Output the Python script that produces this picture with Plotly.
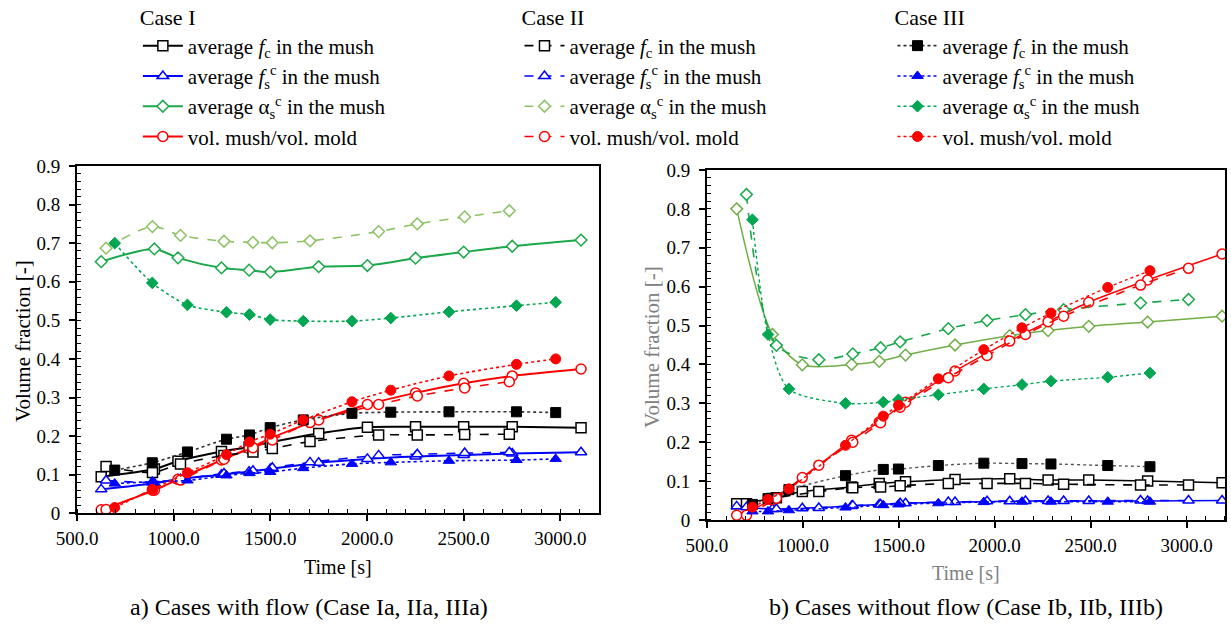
import plotly.graph_objects as go

# ---------------- data: a) cases with flow ----------------
t_I_a = [625, 900, 1022, 1247, 1390, 1500, 1750, 2002, 2251, 2500, 2751, 3107]
fc_I_a = [0.095, 0.115, 0.135, 0.160, 0.172, 0.184, 0.207, 0.223, 0.224, 0.224, 0.224, 0.222]
fs_I_a = [0.062, 0.078, 0.088, 0.100, 0.108, 0.115, 0.131, 0.141, 0.147, 0.151, 0.155, 0.158]
al_I_a = [0.652, 0.685, 0.662, 0.636, 0.630, 0.625, 0.639, 0.642, 0.661, 0.677, 0.692, 0.708]
vm_I_a = [0.009, 0.060, 0.088, 0.138, 0.168, 0.194, 0.242, 0.282, 0.312, 0.337, 0.356, 0.374]

t_II_a = [650, 890, 1035, 1260, 1410, 1510, 1705, 2060, 2260, 2505, 2736]
fc_II_a = [0.121, 0.106, 0.128, 0.150, 0.159, 0.168, 0.186, 0.203, 0.203, 0.204, 0.205]
fs_II_a = [0.085, 0.080, 0.088, 0.103, 0.110, 0.118, 0.132, 0.150, 0.153, 0.156, 0.158]
al_II_a = [0.687, 0.743, 0.720, 0.705, 0.702, 0.701, 0.706, 0.730, 0.750, 0.768, 0.784]
vm_II_a = [0.010, 0.060, 0.086, 0.140, 0.170, 0.190, 0.235, 0.282, 0.304, 0.325, 0.341]

t_III_a = [695, 889, 1071, 1273, 1392, 1499, 1670, 1922, 2123, 2424, 2773, 2976]
fc_III_a = [0.112, 0.131, 0.159, 0.192, 0.203, 0.222, 0.242, 0.259, 0.262, 0.263, 0.263, 0.261]
fs_III_a = [0.077, 0.082, 0.085, 0.098, 0.104, 0.107, 0.117, 0.128, 0.132, 0.136, 0.138, 0.141]
al_III_a = [0.700, 0.597, 0.540, 0.521, 0.515, 0.502, 0.498, 0.498, 0.506, 0.522, 0.538, 0.547]
vm_III_a = [0.015, 0.062, 0.105, 0.152, 0.185, 0.205, 0.242, 0.289, 0.319, 0.356, 0.386, 0.400]

# ---------------- data: b) cases without flow ----------------
t_I_b = [655, 841, 997, 1254, 1398, 1535, 1793, 2078, 2278, 2490, 2797, 3185]
fc_I_b = [0.042, 0.055, 0.073, 0.085, 0.094, 0.098, 0.104, 0.106, 0.103, 0.103, 0.100, 0.096]
fs_I_b = [0.035, 0.028, 0.030, 0.036, 0.040, 0.043, 0.046, 0.048, 0.049, 0.049, 0.049, 0.050]
al_I_b = [0.800, 0.477, 0.399, 0.400, 0.408, 0.424, 0.450, 0.474, 0.487, 0.498, 0.509, 0.524]
vm_I_b = [0.012, 0.052, 0.109, 0.205, 0.252, 0.303, 0.383, 0.460, 0.510, 0.560, 0.617, 0.684]

t_II_b = [706, 862, 1083, 1260, 1405, 1507, 1758, 1960, 2160, 2359, 2760, 3010]
fc_II_b = [0.042, 0.057, 0.073, 0.083, 0.085, 0.088, 0.094, 0.094, 0.094, 0.092, 0.090, 0.090]
fs_II_b = [0.033, 0.028, 0.031, 0.037, 0.040, 0.043, 0.046, 0.048, 0.049, 0.049, 0.050, 0.050]
al_II_b = [0.837, 0.449, 0.412, 0.427, 0.443, 0.458, 0.492, 0.513, 0.528, 0.541, 0.558, 0.567]
vm_II_b = [0.012, 0.056, 0.141, 0.200, 0.250, 0.290, 0.366, 0.423, 0.477, 0.524, 0.604, 0.647]

t_III_b = [737, 818, 927, 1222, 1419, 1498, 1706, 1943, 2142, 2293, 2589, 2809]
fc_III_b = [0.040, 0.055, 0.078, 0.114, 0.130, 0.131, 0.140, 0.146, 0.145, 0.144, 0.140, 0.137]
fs_III_b = [0.022, 0.022, 0.025, 0.032, 0.038, 0.040, 0.043, 0.046, 0.047, 0.047, 0.047, 0.047]
al_III_b = [0.772, 0.477, 0.337, 0.300, 0.303, 0.309, 0.322, 0.337, 0.348, 0.357, 0.367, 0.378]
vm_III_b = [0.033, 0.053, 0.080, 0.192, 0.267, 0.295, 0.363, 0.438, 0.494, 0.532, 0.598, 0.641]

labels = ['average <i>f</i><sub>c</sub> in the mush',
          'average <i>f</i><sub>s</sub><sup>c</sup> in the mush',
          'average α<sub>s</sub><sup>c</sup> in the mush',
          'vol. mush/vol. mold']
case_titles = ['Case I', 'Case II', 'Case III']
x_ticks = [500, 1000, 1500, 2000, 2500, 3000]
captions = ['a) Cases with flow (Case Ia, IIa, IIIa)', 'b) Cases without flow (Case Ib, IIb, IIIb)']
x_title = 'Time [s]'
y_title = 'Volume fraction [-]'

FONT = 'Liberation Serif'
BLACK, BLUE, RED = '#000000', '#0000FF', '#FF0000'
GRAY = '#808080'
symbols = ['square', 'triangle-up', 'diamond', 'circle']
msizes = [10, 10, 9, 10]

fig = go.Figure()

def add_trace(t, y, k, xa, ya, color, dash, width, filled, legend=None, name=None):
    if filled:
        mcol = BLACK if k == 0 else color
        marker = dict(symbol=symbols[k], size=msizes[k], color=mcol, line=dict(color=mcol, width=1))
    else:
        marker = dict(symbol=symbols[k], size=msizes[k], color='white', line=dict(color=color, width=1.5))
    fig.add_trace(go.Scatter(
        x=t, y=y, mode='lines+markers', xaxis=xa, yaxis=ya, name=name,
        line=dict(color=color, dash=dash, width=width, shape='spline', smoothing=0.8),
        marker=marker, showlegend=legend is not None, legend=legend if legend else 'legend'))

# ---- left subplot (these traces also make the three legends) ----
left_sets = [
    (t_I_a, [fc_I_a, fs_I_a, al_I_a, vm_I_a], 'solid', 2.0, [BLACK, BLUE, '#1BA84A', RED], False, 'legend'),
    (t_II_a, [fc_II_a, fs_II_a, al_II_a, vm_II_a], 'dash', 1.6, [BLACK, BLUE, '#8CC263', RED], False, 'legend2'),
    (t_III_a, [fc_III_a, fs_III_a, al_III_a, vm_III_a], 'dot', 1.6, ['#333333', BLUE, '#00A651', RED], True, 'legend3'),
]
for t, series, dash, w, cols, filled, lg in left_sets:
    for k in range(4):
        add_trace(t, series[k], k, 'x', 'y', cols[k], dash, w, filled, legend=lg, name=labels[k])

# ---- right subplot ----
right_sets = [
    (t_I_b, [fc_I_b, fs_I_b, al_I_b, vm_I_b], 'solid', 1.5, [BLACK, BLUE, '#70AD47', RED], False),
    (t_II_b, [fc_II_b, fs_II_b, al_II_b, vm_II_b], 'dash', 1.6, [BLACK, BLUE, '#1BA84A', RED], False),
    (t_III_b, [fc_III_b, fs_III_b, al_III_b, vm_III_b], 'dot', 1.4, ['#555555', BLUE, '#00A651', RED], True),
]
for t, series, dash, w, cols, filled in right_sets:
    for k in range(4):
        add_trace(t, series[k], k, 'x2', 'y2', cols[k], dash, w, filled)

tickfont = dict(family=FONT, size=19, color='black')

def xax(domain, anchor):
    return dict(domain=domain, anchor=anchor, range=[500, 3200], tickvals=x_ticks, automargin=False,
                tickformat='.1f', showline=True, linecolor='black', linewidth=2, mirror=True,
                ticks='outside', ticklen=6, tickwidth=1.5, tickcolor='black', ticklabelstandoff=1,
                minor=dict(dtick=100, tick0=500, ticks='inside', ticklen=4, tickcolor='black', tickwidth=1),
                showgrid=False, zeroline=False, tickfont=tickfont)

def yax(domain, anchor):
    return dict(domain=domain, anchor=anchor, range=[0, 0.9], dtick=0.1, tick0=0, automargin=False,
                showline=True, linecolor='black', linewidth=2, mirror=True,
                ticks='outside', ticklen=6, tickwidth=1.5, tickcolor='black', ticklabelstandoff=5,
                minor=dict(dtick=0.02, ticks='inside', ticklen=4, tickcolor='black', tickwidth=1),
                showgrid=False, zeroline=False, tickfont=tickfont)

legend_common = dict(xanchor='left', yanchor='top', bgcolor='rgba(0,0,0,0)', itemwidth=40,
                     font=dict(family=FONT, size=21, color='black'), tracegroupgap=0)
title_font = dict(family=FONT, size=22, color='black')

def ann(text, x, y, size, color='black', angle=0):
    return dict(text=text, x=x, y=y, xref='paper', yref='paper', showarrow=False,
                xanchor='center', yanchor='middle', textangle=angle,
                font=dict(family=FONT, size=size, color=color))

fig.update_layout(
    template='none',
    width=1231, height=624, margin=dict(l=0, r=0, t=0, b=0, autoexpand=False),
    paper_bgcolor='white', plot_bgcolor='white',
    font=dict(family=FONT, color='black'),
    xaxis=xax([0.0626, 0.4866], 'y'),
    yaxis=yax([0.1774, 0.734], 'x'),
    xaxis2=xax([0.5743, 0.9951], 'y2'),
    yaxis2=yax([0.1667, 0.7276], 'x2'),
    legend=dict(x=0.112, y=1.005, title=dict(text=case_titles[0], font=title_font), **legend_common),
    legend2=dict(x=0.422, y=1.005, title=dict(text=case_titles[1], font=title_font), **legend_common),
    legend3=dict(x=0.725, y=1.005, title=dict(text=case_titles[2], font=title_font), **legend_common),
    annotations=[
        ann(captions[0], 309 / 1231, 1 - 607 / 624, 24),
        ann(captions[1], 966 / 1231, 1 - 607 / 624, 24),
        ann(x_title, 338 / 1231, 1 - 567 / 624, 20),
        ann(x_title, 966 / 1231, 1 - 573 / 624, 20, GRAY),
        ann(y_title, 23 / 1231, 1 - 341 / 624, 21, 'black', -90),
        ann(y_title, 652 / 1231, 1 - 347 / 624, 21, GRAY, -90),
    ],
)

fig.write_html('out.html')
